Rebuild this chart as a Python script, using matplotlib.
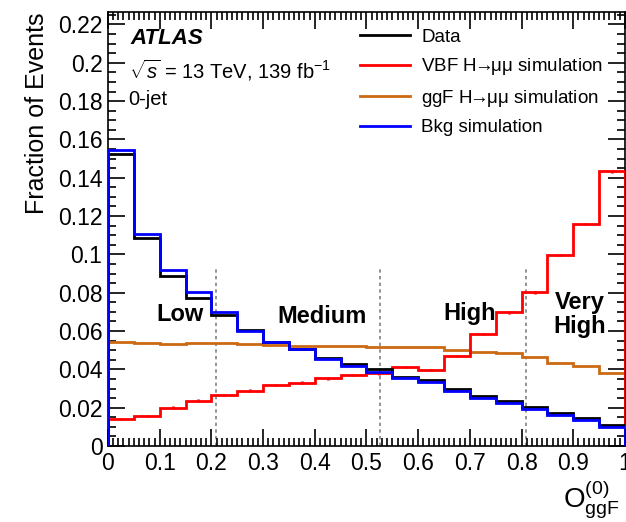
import numpy as np
import matplotlib
matplotlib.use('Agg')
import matplotlib.pyplot as plt
from matplotlib.ticker import MultipleLocator

plt.rcParams['font.family'] = ['Liberation Sans', 'DejaVu Sans']
plt.rcParams['mathtext.fontset'] = 'custom'
plt.rcParams['mathtext.rm'] = 'Liberation Sans'
plt.rcParams['mathtext.it'] = 'Liberation Sans:italic'

# 20 bins of O_ggF^(0)
edges = np.linspace(0, 1, 21)

data = [0.1522, 0.1084, 0.0889, 0.0771, 0.0684, 0.0607, 0.0541, 0.0505, 0.0461, 0.0426,
        0.0400, 0.0362, 0.0344, 0.0296, 0.0263, 0.0235, 0.0202, 0.0174, 0.0145, 0.0110]
bkg = [0.1545, 0.1105, 0.0919, 0.0805, 0.0701, 0.0600, 0.0541, 0.0505, 0.0453, 0.0418,
       0.0385, 0.0353, 0.0334, 0.0285, 0.0251, 0.0223, 0.0193, 0.0162, 0.0136, 0.0101]
vbf = [0.0141, 0.0157, 0.0200, 0.0237, 0.0266, 0.0289, 0.0318, 0.0331, 0.0353, 0.0370,
       0.0379, 0.0412, 0.0397, 0.0470, 0.0585, 0.0698, 0.0802, 0.0997, 0.1159, 0.1434]
ggf = [0.0541, 0.0538, 0.0534, 0.0540, 0.0538, 0.0532, 0.0527, 0.0522, 0.0524, 0.0524,
       0.0517, 0.0515, 0.0515, 0.0501, 0.0492, 0.0484, 0.0463, 0.0433, 0.0418, 0.0383]

# category boundaries
cuts = [0.208, 0.527, 0.809]

fig = plt.figure(figsize=(6.26, 5.22), dpi=100)
ax = fig.add_axes([0.1725, 0.1456, 0.8259, 0.8314])

centers = 0.5 * (edges[1:] + edges[:-1])
orange = '#cc6a14'
hmm = 'H$\\!\\!\\rightarrow\\!\\!$\u03bc\u03bc'

ax.stairs(ggf, edges, color=orange, lw=2, label='ggF ' + hmm + ' simulation', zorder=2)
ax.stairs(vbf, edges, color='#ff0000', lw=2, label='VBF ' + hmm + ' simulation', zorder=3)
ax.errorbar(centers, vbf, yerr=0.0007, fmt='none', ecolor='#ff0000', elinewidth=2, zorder=3)
ax.stairs(data, edges, color='black', lw=2, label='Data', zorder=4)
ax.stairs(bkg, edges, color='#0000ff', lw=2, label='Bkg simulation', zorder=5)

for c in cuts:
    ax.plot([c, c], [0, 0.093], color='gray', ls=(0, (2, 2)), lw=1.2, zorder=1)

kw = dict(fontsize=17, fontweight='bold', ha='center', va='center')
ax.text(0.14, 0.0685, 'Low', **kw)
ax.text(0.415, 0.0675, 'Medium', **kw)
ax.text(0.70, 0.0690, 'High', **kw)
ax.text(0.913, 0.0685, 'Very\nHigh', linespacing=1.05, **kw)

ax.text(0.043, 0.2129, 'ATLAS', fontsize=16, fontweight='bold', style='italic', va='center')
ax.text(0.040, 0.1960, r'$\sqrt{s}$ = 13 TeV, 139 fb$^{-1}$', fontsize=14.5, va='center')
ax.text(0.040, 0.1806, '0-jet', fontsize=14.5, va='center')

h, l = ax.get_legend_handles_labels()
order = [2, 1, 0, 3]
leg = ax.legend([h[i] for i in order], [l[i] for i in order], loc='upper left',
                bbox_to_anchor=(0.455, 1.0), frameon=False, fontsize=13.5,
                handlelength=2.65, handletextpad=0.6, labelspacing=0.55)

ax.set_xlim(0, 1)
ax.set_ylim(0, 0.2265)
ax.xaxis.set_major_locator(MultipleLocator(0.1))
ax.xaxis.set_minor_locator(MultipleLocator(0.01))
ax.yaxis.set_major_locator(MultipleLocator(0.02))
ax.yaxis.set_minor_locator(MultipleLocator(0.005))
ax.xaxis.set_major_formatter(plt.FuncFormatter(lambda v, p: ('%g' % round(v, 2))))
ax.yaxis.set_major_formatter(plt.FuncFormatter(lambda v, p: ('%g' % round(v, 2))))
ax.tick_params(which='both', direction='in', top=True, right=True, labelsize=16.5, width=1.2)
ax.tick_params(which='major', length=12, pad=4)
ax.tick_params(which='minor', length=6)
for s in ax.spines.values():
    s.set_linewidth(1.2)

ax.set_ylabel('Fraction of Events', fontsize=18, loc='top', labelpad=6)
ax.set_xlabel(r'$\mathrm{O}^{(0)}_{\mathrm{ggF}}$', fontsize=20)
ax.xaxis.set_label_coords(0.99, -0.075, transform=ax.transAxes)
ax.xaxis.label.set_horizontalalignment('right')
ax.xaxis.label.set_verticalalignment('top')

fig.savefig('out.png', dpi=100)
